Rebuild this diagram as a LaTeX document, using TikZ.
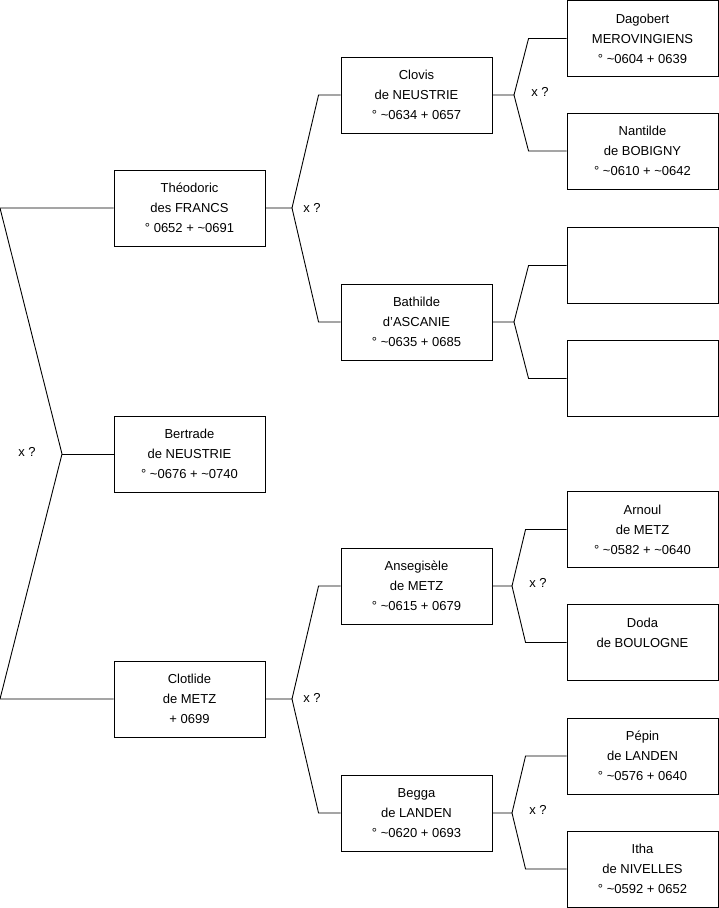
\documentclass[tikz,border=0pt]{standalone}
\usepackage{fontspec}
\setmainfont{Liberation Sans}
\begin{document}
\begin{tikzpicture}[x=1pt, y=-1pt,
	personne/.style={rectangle, draw=black, line width=0.9pt, minimum width=151pt, minimum height=76pt, inner sep=0pt, text centered, align=center, font=\fontsize{13}{20}\selectfont},
	lien/.style={line width=0.9pt},
	mariage/.style={inner sep=0pt, font=\fontsize{13}{16}\selectfont}]
	
	\useasboundingbox (0,0) rectangle (719,908);
	
	\node (theodoric) [personne] at (189.5,208) {Théodoric\\des FRANCS\\° 0652 + \textasciitilde0691};
	\node (bertrade) [personne] at (189.5,454) {Bertrade\\de NEUSTRIE\\° \textasciitilde0676 + \textasciitilde0740};
	\node (clotlide) [personne] at (189.5,699) {Clotlide\\de METZ\\+ 0699};
	
	\node (clovis) [personne] at (416.5,95) {Clovis\\de NEUSTRIE\\° \textasciitilde0634 + 0657};
	\node (bathilde) [personne] at (416.5,322) {Bathilde\\d'ASCANIE\\° \textasciitilde0635 + 0685};
	\node (ansegisele) [personne] at (416.5,586) {Ansegisèle\\de METZ\\° \textasciitilde0615 + 0679};
	\node (begga) [personne] at (416.5,813) {Begga\\de LANDEN\\° \textasciitilde0620 + 0693};
	
	\node (dagobert) [personne] at (642.5,38.5) {Dagobert\\MEROVINGIENS\\° \textasciitilde0604 + 0639};
	\node (nantilde) [personne] at (642.5,151) {Nantilde\\de BOBIGNY\\° \textasciitilde0610 + \textasciitilde0642};
	\node (inconnu1) [personne] at (642.5,265.5) {};
	\node (inconnu2) [personne] at (642.5,378.5) {};
	\node (arnoul) [personne] at (642.5,529.5) {Arnoul\\de METZ\\° \textasciitilde0582 + \textasciitilde0640};
	\node (doda) [personne] at (642.5,642.5) {Doda\\de BOULOGNE\\\mbox{}};
	\node (pepin) [personne] at (642.5,756) {Pépin\\de LANDEN\\° \textasciitilde0576 + 0640};
	\node (itha) [personne] at (642.5,869) {Itha\\de NIVELLES\\° \textasciitilde0592 + 0652};
	
	% generation 1
	\coordinate (hautg) at (0,208);
	\coordinate (jbertrade) at (62,454);
	\coordinate (basg) at (0,699);
	\draw [lien] (theodoric.west) -- (hautg) -- (jbertrade) -- (basg) -- (clotlide.west);
	\draw [lien] (jbertrade) -- (bertrade.west);
	\node (m1) [mariage] at (27,452) {x ?};
	
	% generation 2
	\coordinate (jtheodoric) at (292,208);
	\draw [lien] (theodoric.east) -- (jtheodoric) -- ([xshift=-22pt]clovis.west) -- (clovis.west);
	\draw [lien] (jtheodoric) -- ([xshift=-22pt]bathilde.west) -- (bathilde.west);
	\node (m2) [mariage] at (312,208) {x ?};
	
	\coordinate (jclotlide) at (292,699);
	\draw [lien] (clotlide.east) -- (jclotlide) -- ([xshift=-22pt]ansegisele.west) -- (ansegisele.west);
	\draw [lien] (jclotlide) -- ([xshift=-22pt]begga.west) -- (begga.west);
	\node (m3) [mariage] at (312,698) {x ?};
	
	% generation 3
	\coordinate (jclovis) at (514,95);
	\draw [lien] (clovis.east) -- (jclovis) -- ([xshift=-38pt]dagobert.west) -- (dagobert.west);
	\draw [lien] (jclovis) -- ([xshift=-38pt]nantilde.west) -- (nantilde.west);
	\node (m4) [mariage] at (540,92) {x ?};
	
	\coordinate (jbathilde) at (514,322);
	\draw [lien] (bathilde.east) -- (jbathilde) -- ([xshift=-38pt]inconnu1.west) -- (inconnu1.west);
	\draw [lien] (jbathilde) -- ([xshift=-38pt]inconnu2.west) -- (inconnu2.west);
	
	\coordinate (jansegisele) at (512,586);
	\draw [lien] (ansegisele.east) -- (jansegisele) -- ([xshift=-41pt]arnoul.west) -- (arnoul.west);
	\draw [lien] (jansegisele) -- ([xshift=-41pt]doda.west) -- (doda.west);
	\node (m5) [mariage] at (538,583) {x ?};
	
	\coordinate (jbegga) at (512,813);
	\draw [lien] (begga.east) -- (jbegga) -- ([xshift=-41pt]pepin.west) -- (pepin.west);
	\draw [lien] (jbegga) -- ([xshift=-41pt]itha.west) -- (itha.west);
	\node (m6) [mariage] at (538,810) {x ?};
\end{tikzpicture}
\end{document}
